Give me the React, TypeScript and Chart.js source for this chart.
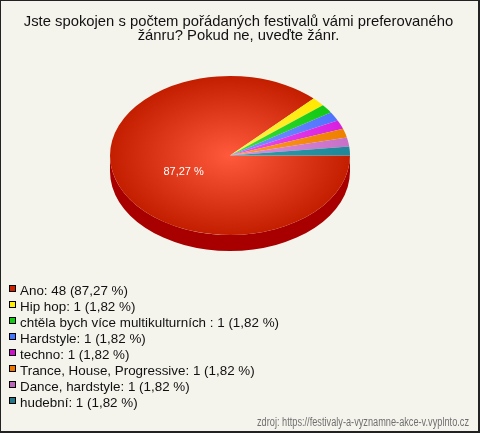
import React, { useEffect, useRef } from 'react';
import { Chart, registerables, layouts } from 'chart.js';

Chart.register(...registerables);

// ---- data ----
const categories = [
  'Ano',
  'Hip hop',
  'chtěla bych více multikulturních ',
  'Hardstyle',
  'techno',
  'Trance, House, Progressive',
  'Dance, hardstyle',
  'hudební',
];
const counts = [48, 1, 1, 1, 1, 1, 1, 1];
const percentLabels = ['87,27 %', '1,82 %', '1,82 %', '1,82 %', '1,82 %', '1,82 %', '1,82 %', '1,82 %'];
const titleLines = [
  'Jste spokojen s počtem pořádaných festivalů vámi preferovaného',
  'žánru? Pokud ne, uveďte žánr.',
];
const sourceText = 'zdroj: https://festivaly-a-vyznamne-akce-v.vyplnto.cz';

// ---- styles ----
const FONT = '"Liberation Sans", Arial, Helvetica, sans-serif';
const sliceEdgeColors = ['#c41e00', '#ffe800', '#14c814', '#5073ff', '#d820e0', '#ee8000', '#c870c8', '#208898'];
const sliceCenterColors = ['#ff5a3c', '#fff25a', '#3ee23e', '#7a95ff', '#ea55f0', '#ff9a2a', '#dc92dc', '#30a0b0'];
const legendColors = ['#cc2200', '#ffee00', '#11cc11', '#4477ff', '#cc11cc', '#ee7700', '#bb66bb', '#227788'];
const PIE_RADIUS = 120;
const TILT = 0.6625;
const DEPTH = 16;
const SIDE_COLOR = '#a80000';
const LEGEND_FIRST_OFFSET = 27;
const LEGEND_ROW = 16;

const tiltPlugin = {
  id: 'tilt3d',
  beforeDatasetsDraw(chart: any) {
    const arc = chart.getDatasetMeta(0).data[0];
    if (!arc) return;
    const { x, y, outerRadius } = arc.getProps(['x', 'y', 'outerRadius'], true);
    const r = outerRadius;
    const ctx = chart.ctx;
    ctx.save();
    ctx.fillStyle = SIDE_COLOR;
    ctx.beginPath();
    ctx.ellipse(x, y + DEPTH, r, r * TILT, 0, 0, Math.PI);
    ctx.lineTo(x - r, y);
    ctx.ellipse(x, y, r, r * TILT, 0, Math.PI, 0, true);
    ctx.closePath();
    ctx.fill();
    ctx.restore();
    ctx.save();
    ctx.translate(x, y);
    ctx.scale(1, TILT);
    ctx.translate(-x, -y);
  },
  afterDatasetsDraw(chart: any) {
    const ctx = chart.ctx;
    ctx.restore();
    const meta = chart.getDatasetMeta(0);
    const total = counts.reduce((a, b) => a + b, 0);
    meta.data.forEach((arc: any, i: number) => {
      if (counts[i] / total < 0.1) return;
      const { x, y, startAngle, endAngle, outerRadius } = arc.getProps(
        ['x', 'y', 'startAngle', 'endAngle', 'outerRadius'],
        true
      );
      const mid = (startAngle + endAngle) / 2;
      const rr = outerRadius * 0.42;
      ctx.save();
      ctx.fillStyle = '#ffffff';
      ctx.font = `11px ${FONT}`;
      ctx.textAlign = 'center';
      ctx.textBaseline = 'middle';
      ctx.fillText(percentLabels[i], x + Math.cos(mid) * rr, y + Math.sin(mid) * rr * TILT + 3);
      ctx.restore();
    });
  },
};

const listLegendPlugin = {
  id: 'listLegend',
  afterDraw(chart: any) {
    const ctx = chart.ctx;
    const top = chart.chartArea.bottom + LEGEND_FIRST_OFFSET;
    ctx.save();
    categories.forEach((c, i) => {
      const yy = top + i * LEGEND_ROW;
      ctx.fillStyle = legendColors[i];
      ctx.fillRect(9.5, yy - 3.5, 6, 6);
      ctx.strokeStyle = '#000';
      ctx.lineWidth = 1;
      ctx.strokeRect(9.5, yy - 3.5, 6, 6);
      ctx.fillStyle = '#111';
      ctx.font = `13.4px ${FONT}`;
      ctx.textAlign = 'left';
      ctx.textBaseline = 'alphabetic';
      ctx.fillText(`${c}: ${counts[i]} (${percentLabels[i]})`, 20, yy + 6);
    });
    ctx.fillStyle = '#707070';
    ctx.font = `12px ${FONT}`;
    ctx.textAlign = 'right';
    ctx.textBaseline = 'alphabetic';
    ctx.fillText(sourceText, 469, 426, 212);
    ctx.restore();
  },
};

const spacerPlugin = {
  id: 'rightSpacer',
  beforeInit(chart: any) {
    const box: any = {
      position: 'right',
      weight: 0,
      fullSize: false,
      options: {},
      width: 0,
      height: 0,
      left: 0,
      top: 0,
      right: 0,
      bottom: 0,
      isHorizontal() {
        return false;
      },
      update(_maxWidth: number, maxHeight: number) {
        this.width = 17;
        this.height = maxHeight;
      },
      draw() {},
    };
    layouts.addBox(chart, box);
  },
};

export default function App() {
  const ref = useRef<HTMLCanvasElement | null>(null);

  useEffect(() => {
    if (!ref.current) return;
    const chart = new Chart(ref.current, {
      type: 'pie',
      data: {
        labels: categories,
        datasets: [
          {
            data: counts,
            radius: PIE_RADIUS,
            clip: false,
            borderWidth: 0,
            backgroundColor: (c: any) => {
              const i = c.dataIndex ?? 0;
              const chartRef = c.chart;
              const area = chartRef.chartArea;
              if (!area) return sliceEdgeColors[i];
              const cx = (area.left + area.right) / 2;
              const cy = (area.top + area.bottom) / 2;
              const g = chartRef.ctx.createRadialGradient(cx, cy, 0, cx, cy, PIE_RADIUS);
              g.addColorStop(0, sliceCenterColors[i]);
              g.addColorStop(1, sliceEdgeColors[i]);
              return g;
            },
          } as any,
        ],
      },
      options: {
        responsive: false,
        animation: false,
        events: [],
        rotation: 90,
        layout: { padding: { top: 0, left: 0, right: 3, bottom: 171 } },
        plugins: {
          legend: { display: false },
          tooltip: { enabled: false },
          title: {
            display: true,
            text: titleLines,
            color: '#111',
            font: { family: FONT, size: 14.8, weight: 'normal', lineHeight: '14px' } as any,
            padding: { top: 15, bottom: 6 },
          },
        },
      },
      plugins: [spacerPlugin, tiltPlugin, listLegendPlugin],
    });
    return () => chart.destroy();
  }, []);

  return (
    <div
      style={{
        position: 'fixed',
        left: 0,
        top: 0,
        width: 480,
        height: 433,
        background: '#f5f4ec',
        boxShadow: 'inset 1px 1px 0 #222, inset -2px -2px 0 #222',
      }}
    >
      <canvas ref={ref} width={480} height={433} style={{ display: 'block', width: 480, height: 433 }} />
    </div>
  );
}
